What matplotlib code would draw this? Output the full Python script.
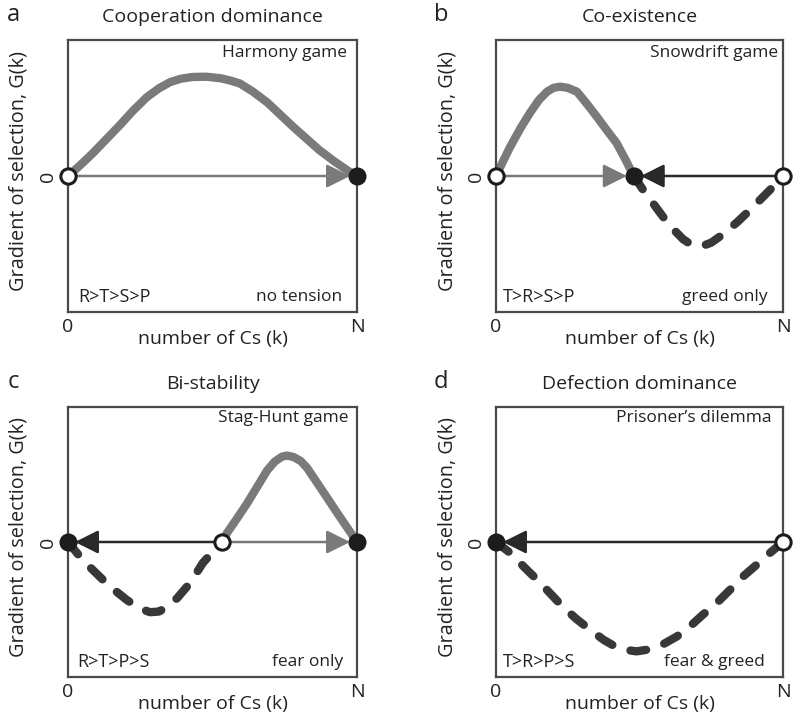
import numpy as np
import matplotlib
matplotlib.use("Agg")
import matplotlib.pyplot as plt

plt.rcParams['font.family'] = ['Open Sans', 'DejaVu Sans']

W, H = 794, 717

# ---- data (x = k/N, y = G(k) relative) ----
titles = ["Cooperation dominance", "Co-existence", "Bi-stability", "Defection dominance"]
letters = ["a", "b", "c", "d"]
game_names = ["Harmony game", "Snowdrift game", "Stag-Hunt game", "Prisoner\u2019s dilemma"]
orderings = ["R>T>S>P", "T>R>S>P", "R>T>P>S", "T>R>P>S"]
tensions = ["no tension", "greed only", "fear only", "fear & greed"]

# panel a
a_pos_x = [0, .04, .087, .13, .18, .225, .273, .315, .353, .39, .43, .48, .53, .565, .595,
           .64, .69, .735, .78, .825, .87, .92, .965, 1]
a_pos_y = [0, .075, .17, .265, .375, .48, .58, .645, .69, .715, .728, .73, .718, .70, .68,
           .62, .54, .45, .36, .275, .19, .11, .044, 0]
# panel b
b_pos_x = [0, .025, .049, .085, .118, .15, .178, .2, .223, .25, .282, .315, .352, .385, .42, .45, .48]
b_pos_y = [0, .11, .213, .35, .463, .56, .62, .648, .657, .648, .62, .535, .434, .34, .243, .125, 0]
b_neg_x = [.48, .512, .547, .582, .617, .652, .677, .70, .725, .75, .79, .84, .885, .925, .965, 1]
b_neg_y = [0, -.10, -.20, -.30, -.39, -.465, -.50, -.515, -.51, -.49, -.43, -.34, -.25, -.165, -.08, 0]
# panel c
c_neg_x = [0, .042, .08, .121, .163, .204, .245, .284, .315, .343, .378, .412, .44, .467, .5, .533]
c_neg_y = [0, -.11, -.195, -.28, -.36, -.43, -.49, -.52, -.515, -.48, -.415, -.33, -.245, -.154, -.075, 0]
c_pos_x = [.533, .55, .585, .62, .655, .689, .715, .74, .758, .78, .805, .827, .86, .896, .93, .965, 1]
c_pos_y = [0, .066, .175, .287, .41, .53, .595, .632, .64, .63, .60, .55, .445, .33, .22, .11, 0]
# panel d
d_neg_x = [0, .049, .1, .153, .193, .233, .28, .328, .375, .42, .455, .49, .535, .58, .63, .676,
           .72, .77, .815, .86, .91, .955, 1]
d_neg_y = [0, -.08, -.19, -.30, -.39, -.48, -.57, -.65, -.725, -.78, -.80, -.81, -.795, -.76, -.70,
           -.625, -.54, -.45, -.355, -.257, -.165, -.08, 0]

pos_curves = [(a_pos_x, a_pos_y), (b_pos_x, b_pos_y), (c_pos_x, c_pos_y), None]
neg_curves = [None, (b_neg_x, b_neg_y), (c_neg_x, c_neg_y), (d_neg_x, d_neg_y)]

# equilibria
stable_pts = [[1], [0.48], [0, 1], [0]]
unstable_pts = [[0], [0, 1], [0.533], [1]]
# arrows: (start, end, kind)
arrows = [
    [(0, 1, 'up')],
    [(0, 0.48, 'up'), (1, 0.48, 'down')],
    [(0.533, 0, 'down'), (0.533, 1, 'up')],
    [(1, 0, 'down')],
]

# ---- layout (pixels) ----
boxes = [(68, 40, 357, 312), (496, 40, 783, 312), (68, 407, 357, 677), (496, 407, 783, 677)]

GRAY = '#7a7a7a'
DARK = '#383838'
SPINE = '#4a4a4a'
TXT = '#222222'

fig = plt.figure(figsize=(W / 100, H / 100), dpi=100)


def fx(px):
    return px / W


def fy(py):
    return 1 - py / H


for i, (l, t, r, b) in enumerate(boxes):
    ax = fig.add_axes([fx(l), fy(b), (r - l) / W, (b - t) / H])
    ax.set_xlim(0, 1)
    ax.set_ylim(-1, 1)
    for s in ax.spines.values():
        s.set_color(SPINE)
        s.set_linewidth(1.6)
    ax.set_xticks([0, 1])
    ax.set_xticklabels(['0', 'N'], fontsize=14, color=TXT)
    ax.set_yticks([0])
    ax.set_yticklabels(['0'], fontsize=14, rotation=90, va='center', color=TXT)
    ax.tick_params(axis='x', length=0, pad=4)
    ax.tick_params(axis='y', length=0, pad=8)

    if pos_curves[i] is not None:
        ax.plot(pos_curves[i][0], pos_curves[i][1], color=GRAY, lw=6,
                solid_capstyle='round', solid_joinstyle='round', zorder=2, clip_on=False)
    if neg_curves[i] is not None:
        ax.plot(neg_curves[i][0], neg_curves[i][1], color=DARK, lw=6,
                linestyle=(0, (1.9, 2.3)), dash_capstyle='round', dash_joinstyle='round',
                zorder=2, clip_on=False)

    for (s0, s1, kind) in arrows[i]:
        col = GRAY if kind == 'up' else '#2a2a2a'
        ax.annotate('', xy=(s1, 0), xytext=(s0, 0), xycoords='data',
                    arrowprops=dict(arrowstyle='-|>,head_length=0.4,head_width=0.2',
                                    mutation_scale=36, color=col, lw=1.8,
                                    shrinkA=0, shrinkB=5),
                    zorder=3, annotation_clip=False)

    ax.plot(stable_pts[i], [0] * len(stable_pts[i]), 'o', ms=12, color='#1c1c1c',
            zorder=5, clip_on=False)
    ax.plot(unstable_pts[i], [0] * len(unstable_pts[i]), 'o', ms=11, mfc='white',
            mec='#1c1c1c', mew=2.2, zorder=5, clip_on=False)

    w_ax = r - l
    h_ax = b - t
    ax.text(1 - (r - [347, 778, 348, 771][i]) / w_ax, (b - [53, 53, 418, 418][i]) / h_ax,
            game_names[i], transform=ax.transAxes, ha='right', va='center',
            fontsize=12.5, color=TXT)
    ax.text((([78, 503, 77, 503][i]) - l) / w_ax, (b - [297, 297, 662, 662][i]) / h_ax,
            orderings[i], transform=ax.transAxes, ha='left', va='center',
            fontsize=13, color=TXT)
    ax.text(1 - (r - [342, 768, 343, 765][i]) / w_ax, (b - [297, 297, 662, 662][i]) / h_ax,
            tensions[i], transform=ax.transAxes, ha='right', va='center',
            fontsize=12.5, color=TXT)

    cx = (l + r) / 2
    fig.text(fx(cx), fy(t - 23), titles[i], ha='center', va='center', fontsize=14, color=TXT)
    fig.text(fx(l - 55), fy(t - 25), letters[i], ha='center', va='center', fontsize=17, color=TXT)
    fig.text(fx(l - 49), fy((t + b) / 2 - 5), 'Gradient of selection, G(k)', ha='center', va='center',
             rotation=90, fontsize=14.3, color=TXT)
    fig.text(fx(cx), fy(b + 27), 'number of Cs (k)', ha='center', va='center', fontsize=14, color=TXT)

fig.savefig('out.png', dpi=100)
